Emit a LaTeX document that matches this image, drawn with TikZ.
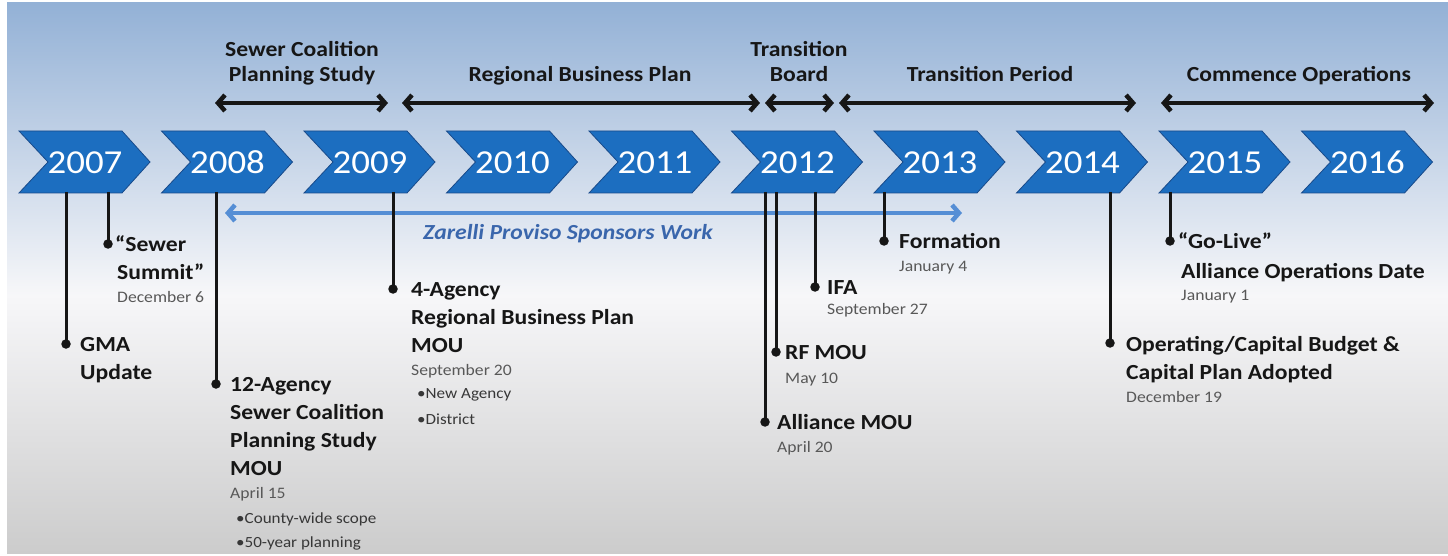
\documentclass[tikz,border=0pt]{standalone}
\usepackage{fontspec}
\setmainfont{Carlito}[FakeStretch=1.1]
\usetikzlibrary{arrows.meta}
\definecolor{skytop}{RGB}{147,177,214}
\definecolor{skymid}{RGB}{247,247,249}
\definecolor{floorgray}{RGB}{204,204,204}
\definecolor{chev}{RGB}{28,110,192}
\definecolor{chevedge}{RGB}{24,74,138}
\definecolor{spanblue}{RGB}{85,142,213}
\definecolor{spantext}{RGB}{58,102,172}
\definecolor{datecol}{RGB}{88,88,88}
\definecolor{notecol}{RGB}{55,55,55}
\definecolor{ink}{RGB}{22,22,22}

\begin{document}
\begin{tikzpicture}[x=1pt,y=-1pt,
  barb/.tip={Straight Barb[length=7pt,width=16pt,line width=4.5pt]},
  period/.style={draw=ink,line width=3.2pt,barb-barb},
  zspan/.style={draw=spanblue,line width=3.2pt,barb-barb},
  stem/.style={draw=ink,line width=3pt},
  pin/.style={circle,fill=ink,minimum size=9.5pt,inner sep=0pt},
  year/.style={anchor=base,inner sep=0pt,text=white,font=\fontsize{33.5}{40}\selectfont},
  head/.style={anchor=base,inner sep=0pt,text=ink,font=\fontsize{21.5}{26}\selectfont\bfseries},
  lab/.style={anchor=base west,inner sep=0pt,text=ink,font=\fontsize{21.5}{26}\selectfont\bfseries},
  date/.style={anchor=base west,inner sep=0pt,text=datecol,font=\fontsize{16}{19}\selectfont},
  note/.style={anchor=base west,inner sep=0pt,text=notecol,font=\fontsize{15.5}{19}\selectfont},
]
\useasboundingbox (0,0) rectangle (1448,556);

% backdrop: sky blue fading to white, then to light gray
\shade[top color=skytop,bottom color=skymid] (7,3) rectangle (1448,296);
\shade[top color=skymid,bottom color=floorgray] (7,295) rectangle (1448,553);

% year chevrons
\foreach \yr [count=\i from 0] in {2007,...,2016} {
  \pgfmathsetmacro\cx{19+142.5*\i}
  \filldraw[fill=chev,draw=chevedge,line width=0.8pt,line join=miter]
    (\cx,131) -- ++(103,0) -- ++(28,31) -- ++(-28,31) -- ++(-103,0) -- ++(29,-31) -- cycle;
  \node[year] (y\yr) at (\cx+66,173.5) {\yr};
}

% phase headings and spans
\node[head] (hsc1) at (302,57) {Sewer Coalition};
\node[head] (hsc2) at (302,82) {Planning Study};
\node[head] (hrbp) at (580,82) {Regional Business Plan};
\node[head] (htb1) at (799,57) {Transition};
\node[head] (htb2) at (799,82) {Board};
\node[head] (htp)  at (990,82) {Transition Period};
\node[head] (hco)  at (1299,82) {Commence Operations};

\coordinate (p1a) at (215,103);  \coordinate (p1b) at (388,103);
\coordinate (p2a) at (402,103);  \coordinate (p2b) at (760,103);
\coordinate (p3a) at (765,103);  \coordinate (p3b) at (834,103);
\coordinate (p4a) at (839,103);  \coordinate (p4b) at (1136,103);
\coordinate (p5a) at (1161,103); \coordinate (p5b) at (1434,103);
\draw[period] (p1a) -- (p1b);
\draw[period] (p2a) -- (p2b);
\draw[period] (p3a) -- (p3b);
\draw[period] (p4a) -- (p4b);
\draw[period] (p5a) -- (p5b);

% sponsorship span
\coordinate (za) at (225,213);
\coordinate (zb) at (962,213);
\draw[zspan] (za) -- (zb);
\node[anchor=base,inner sep=0pt,text=spantext,font=\fontsize{21.5}{26}\selectfont\bfseries\itshape]
  (zarelli) at (568,240) {Zarelli Proviso Sponsors Work};

% milestone pins
\coordinate (t1) at (66,192);   \node[pin] (m1) at (66,344) {};
\coordinate (t2) at (108,192);  \node[pin] (m2) at (108,244) {};
\coordinate (t3) at (216,192);  \node[pin] (m3) at (216,384) {};
\coordinate (t4) at (393,192);  \node[pin] (m4) at (393,289) {};
\coordinate (t5) at (765,192);  \node[pin] (m5) at (765,422) {};
\coordinate (t6) at (776,192);  \node[pin] (m6) at (776,352) {};
\coordinate (t7) at (815,192);  \node[pin] (m7) at (815,287) {};
\coordinate (t8) at (884,192);  \node[pin] (m8) at (884,241) {};
\coordinate (t9) at (1110,192); \node[pin] (m9) at (1110,343) {};
\coordinate (t10) at (1170,192);\node[pin] (m10) at (1170,241) {};
\foreach \k in {1,...,10} { \draw[stem] (t\k) -- (m\k.center); }

% 2007
\node[lab] (gma1) at (80,351.5) {GMA};
\node[lab] (gma2) at (80,379.5) {Update};
\node[lab] (ss1) at (115,251.5) {“Sewer};
\node[lab] (ss2) at (117,279.5) {Summit”};
\node[date] (ss3) at (117,302) {December 6};

% 2008
\node[lab] (ag1) at (230,391.5) {12-Agency};
\node[lab] (ag2) at (230,419.5) {Sewer Coalition};
\node[lab] (ag3) at (230,447.5) {Planning Study};
\node[lab] (ag4) at (230,475.5) {MOU};
\node[date] (ag5) at (230,498) {April 15};
\node[note] (ag6) at (236,523) {•County-wide scope};
\node[note] (ag7) at (236,547) {•50-year planning};

% 2009
\node[lab] (fa1) at (411,296.5) {4-Agency};
\node[lab] (fa2) at (411,324.5) {Regional Business Plan};
\node[lab] (fa3) at (411,352.5) {MOU};
\node[date] (fa4) at (411,375) {September 20};
\node[note] (fa5) at (417,398.5) {•New Agency};
\node[note] (fa6) at (417,424) {•District};

% 2012
\node[lab] (al1) at (777,429.5) {Alliance MOU};
\node[date] (al2) at (777,452) {April 20};
\node[lab] (rf1) at (785,359.5) {RF MOU};
\node[date] (rf2) at (785,383) {May 10};
\node[lab] (ifa1) at (827,294.5) {IFA};
\node[date] (ifa2) at (827,314.5) {September 27};

% 2013
\node[lab] (fm1) at (899,248.5) {Formation};
\node[date] (fm2) at (899,271) {January 4};

% 2014
\node[lab] (ob1) at (1126,351) {Operating/Capital Budget \&};
\node[lab] (ob2) at (1126,379.5) {Capital Plan Adopted};
\node[date] (ob3) at (1126,402) {December 19};

% 2015
\node[lab] (gl1) at (1178,248.5) {“Go-Live”};
\node[lab] (gl2) at (1181,278) {Alliance Operations Date};
\node[date] (gl3) at (1181,300.5) {January 1};
\end{tikzpicture}
\end{document}
